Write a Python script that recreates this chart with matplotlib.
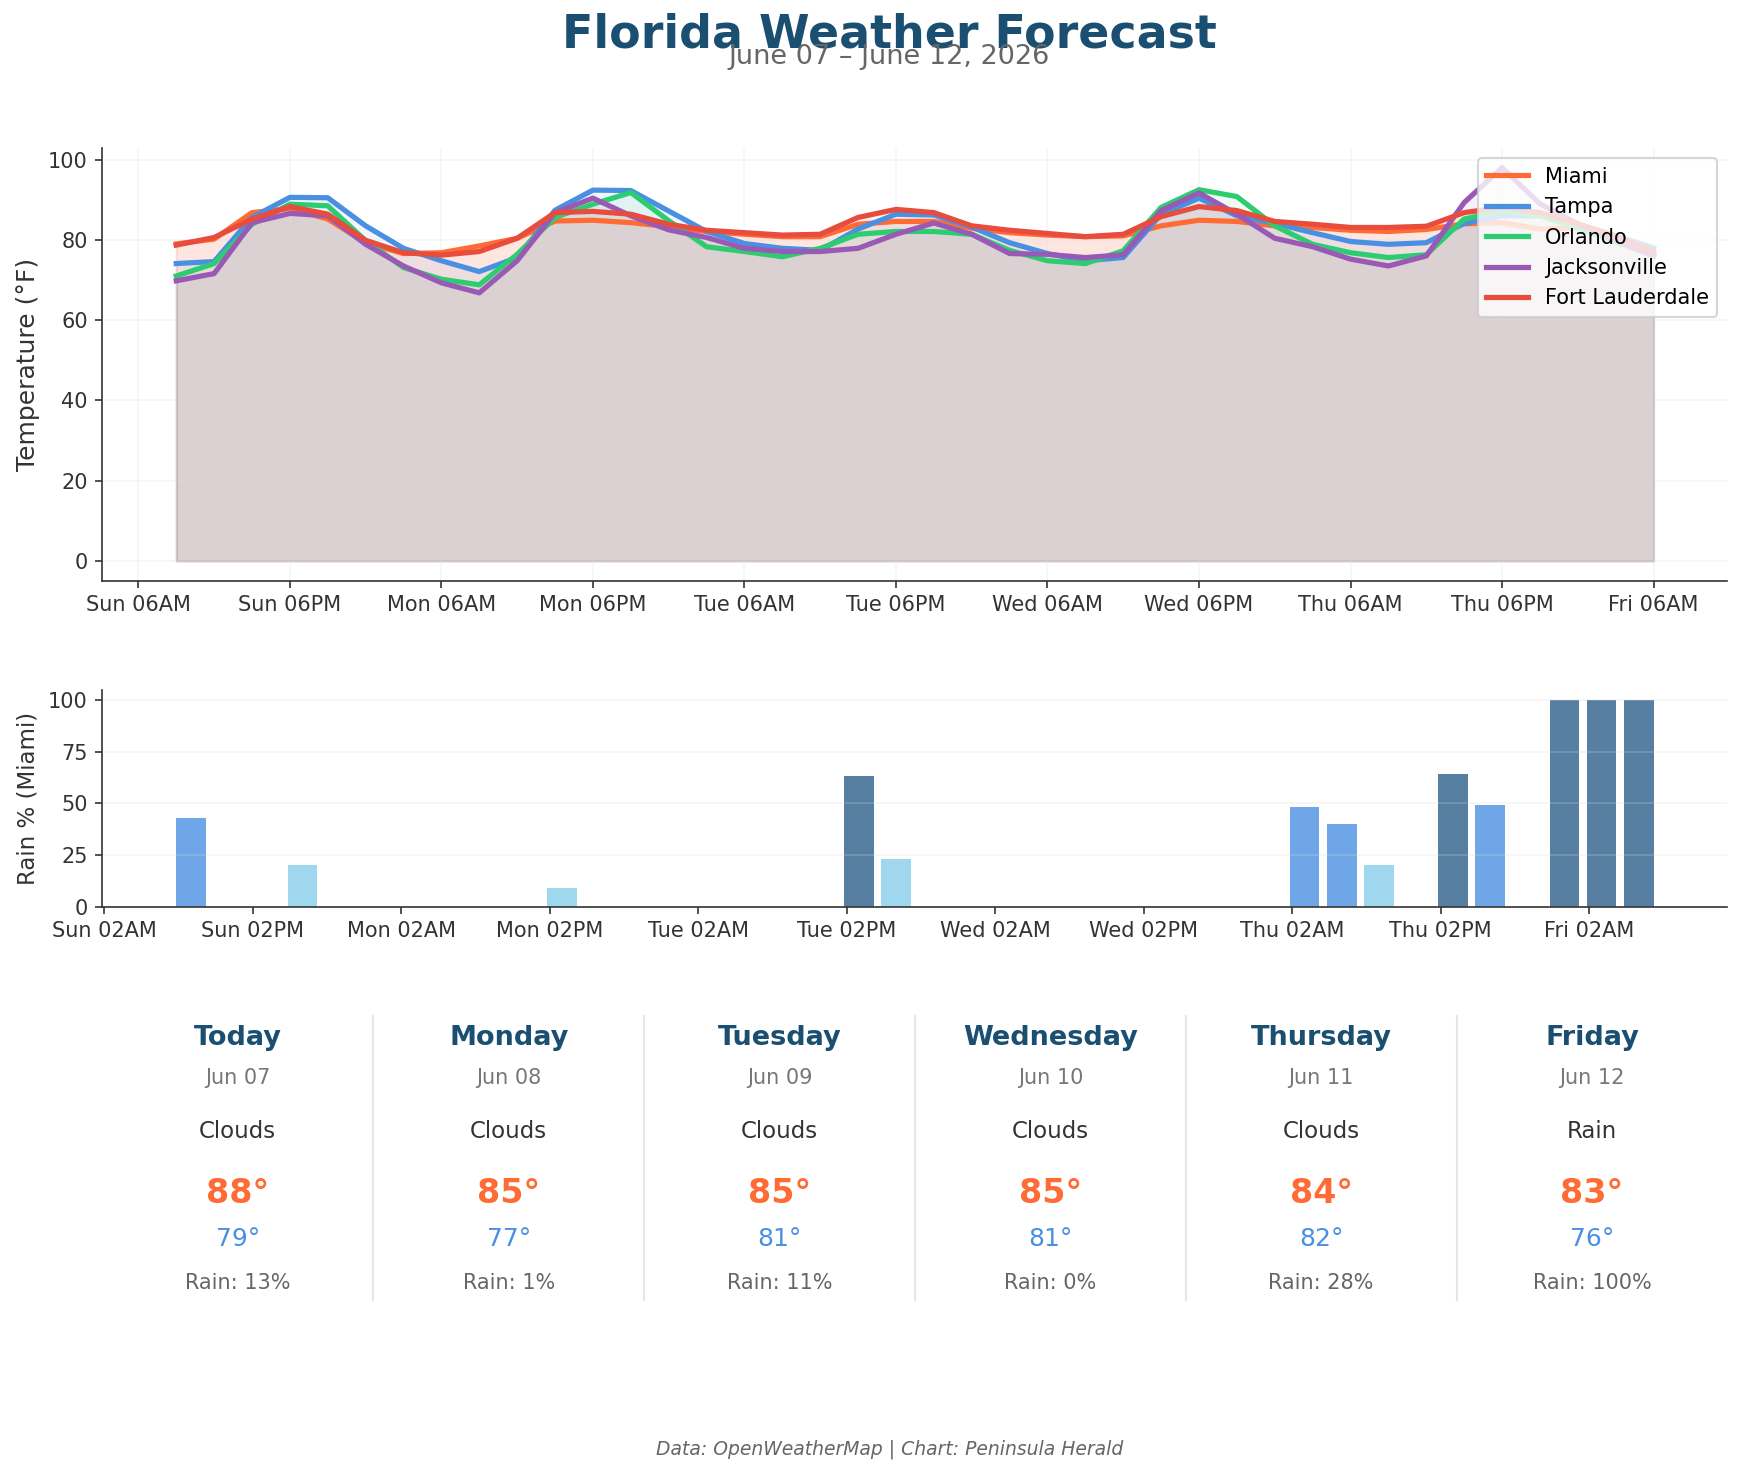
import matplotlib
matplotlib.use("Agg")
import matplotlib.pyplot as plt
import matplotlib.dates as mdates
import pandas as pd

# 3-hourly forecast, Sun 09AM -> Fri 06AM
times = pd.date_range("2026-06-07 09:00", periods=40, freq="3h")

cities = ["Miami", "Tampa", "Orlando", "Jacksonville", "Fort Lauderdale"]
city_colors = ["#FF6B35", "#4A90E2", "#2ECC71", "#9B59B6", "#E74C3C"]

miami = [79.0, 80.2, 86.8, 87.8, 85.2, 79.3, 76.6, 76.8, 78.5, 80.4,
         84.7, 84.9, 84.3, 83.3, 82.1, 81.4, 80.8, 80.8, 83.9, 84.6,
         84.6, 82.9, 81.8, 81.2, 80.8, 81.0, 83.5, 84.9, 84.6, 83.5,
         83.1, 82.4, 82.1, 82.6, 84.0, 84.3, 82.7, 83.0, 79.5, 76.0]
tampa = [74.1, 74.6, 85.6, 90.6, 90.5, 83.5, 77.9, 74.8, 72.1, 75.6,
         87.4, 92.4, 92.3, 87.2, 82.1, 79.1, 77.9, 77.4, 82.7, 86.4,
         86.2, 83.2, 79.3, 76.6, 74.8, 75.6, 86.4, 90.4, 86.0, 84.1,
         81.8, 79.6, 78.9, 79.3, 84.1, 86.0, 86.0, 84.0, 81.0, 78.0]
orlando = [71.0, 74.1, 83.9, 88.9, 88.5, 79.8, 73.1, 70.2, 68.8, 76.4,
           85.6, 88.9, 91.8, 84.8, 78.3, 77.1, 75.8, 77.9, 81.4, 82.1,
           82.1, 81.4, 77.4, 74.8, 74.1, 77.3, 88.1, 92.5, 90.8, 83.5,
           78.9, 76.8, 75.6, 76.3, 85.2, 87.2, 86.0, 83.0, 79.5, 76.5]
jacksonville = [69.8, 71.6, 84.3, 86.6, 86.0, 78.9, 73.5, 69.3, 66.8, 74.8,
                86.8, 90.4, 86.0, 82.5, 80.6, 77.9, 77.1, 77.1, 77.9, 81.4,
                84.2, 81.4, 76.6, 76.4, 75.6, 76.3, 87.3, 91.7, 86.4, 80.4,
                78.3, 75.2, 73.5, 76.0, 89.3, 98.0, 89.0, 84.0, 80.0, 76.0]
fort_lauderdale = [78.7, 80.6, 85.2, 88.3, 86.4, 79.9, 76.8, 76.2, 77.1, 80.4,
                   86.8, 87.1, 86.4, 83.9, 82.4, 81.8, 81.2, 81.4, 85.6, 87.6,
                   86.8, 83.5, 82.4, 81.6, 80.8, 81.4, 85.8, 88.3, 87.3, 84.6,
                   83.9, 83.1, 83.1, 83.4, 86.8, 88.1, 86.8, 84.0, 81.0, 77.0]
temps = [miami, tampa, orlando, jacksonville, fort_lauderdale]

# Miami chance of rain (%)
rain_miami = [43, 0, 0, 20, 0, 0, 0, 0, 0, 0,
              9, 0, 0, 0, 0, 0, 0, 0, 63, 23,
              0, 0, 0, 0, 0, 0, 0, 0, 0, 0,
              48, 40, 20, 0, 64, 49, 0, 100, 100, 100]

# daily summary
day_names = ["Today", "Monday", "Tuesday", "Wednesday", "Thursday", "Friday"]
day_dates = ["Jun 07", "Jun 08", "Jun 09", "Jun 10", "Jun 11", "Jun 12"]
conditions = ["Clouds", "Clouds", "Clouds", "Clouds", "Clouds", "Rain"]
highs = [88, 85, 85, 85, 84, 83]
lows = [79, 77, 81, 81, 82, 76]
rain_daily = [13, 1, 11, 0, 28, 100]

temp_ticks = pd.date_range("2026-06-07 06:00", "2026-06-12 06:00", freq="12h")
rain_ticks = pd.date_range("2026-06-07 02:00", "2026-06-12 02:00", freq="12h")

TITLE_COLOR = "#1B4F72"
TEXT_COLOR = "#333333"

fig = plt.figure(figsize=(1744 / 150, 1474 / 150), dpi=150)

fig.text(0.51, 0.976, "Florida Weather Forecast", ha="center", va="center",
         fontsize=22, fontweight="bold", color=TITLE_COLOR)
fig.text(0.51, 0.961, "June 07 \u2013 June 12, 2026", ha="center", va="center",
         fontsize=13, color="#666666")

# --- temperature chart ---
ax = fig.add_axes([0.0587, 0.6061, 0.9318, 0.2935])
for name, col, t in zip(cities, city_colors, temps):
    ax.fill_between(times, t, alpha=0.08, color=col)
for name, col, t in zip(cities, city_colors, temps):
    ax.plot(times, t, color=col, lw=2.5, label=name)

ax.set_ylabel("Temperature (\u00b0F)", fontsize=12, color=TEXT_COLOR)
ax.set_xticks(temp_ticks)
ax.xaxis.set_major_formatter(mdates.DateFormatter("%a %I%p"))
ax.tick_params(labelsize=10, colors=TEXT_COLOR)
ax.grid(True, alpha=0.25, color="#dddddd")
ax.legend(loc="upper right", fontsize=10, framealpha=0.8)
for s in ["top", "right"]:
    ax.spines[s].set_visible(False)
for s in ["left", "bottom"]:
    ax.spines[s].set_color(TEXT_COLOR)

# --- rain chart ---
ax2 = fig.add_axes([0.0587, 0.3849, 0.9318, 0.1472])
bar_colors = []
for r in rain_miami:
    if r >= 50:
        bar_colors.append("#2C5F8A")
    elif r >= 25:
        bar_colors.append("#4A90E2")
    else:
        bar_colors.append("#87CEEB")
ax2.bar(mdates.date2num(times), rain_miami, width=0.1, color=bar_colors, alpha=0.8)
ax2.set_ylim(0, 105)
ax2.set_ylabel("Rain % (Miami)", fontsize=11, color=TEXT_COLOR)
ax2.set_xticks(mdates.date2num(rain_ticks))
ax2.xaxis.set_major_formatter(mdates.DateFormatter("%a %I%p"))
ax2.set_yticks([0, 25, 50, 75, 100])
ax2.tick_params(labelsize=10, colors=TEXT_COLOR)
ax2.grid(True, axis="y", alpha=0.25, color="#dddddd")
for s in ["top", "right"]:
    ax2.spines[s].set_visible(False)
for s in ["left", "bottom"]:
    ax2.spines[s].set_color(TEXT_COLOR)

# --- daily summary cards ---
axp = fig.add_axes([0.0587, 0.1174, 0.9318, 0.1943])
axp.set_xlim(0, 6)
axp.set_ylim(0, 1)
axp.axis("off")
for i in range(1, 6):
    axp.plot([i, i], [0, 1], color="#e6e6e6", lw=1)
for i in range(6):
    cx = i + 0.5
    axp.text(cx, 0.919, day_names[i], ha="center", va="center", fontsize=13,
             fontweight="bold", color=TITLE_COLOR)
    axp.text(cx, 0.779, day_dates[i], ha="center", va="center", fontsize=10,
             color="#777777")
    axp.text(cx, 0.592, conditions[i], ha="center", va="center", fontsize=11,
             color=TEXT_COLOR)
    axp.text(cx, 0.375, f"{highs[i]}\u00b0", ha="center", va="center", fontsize=16,
             fontweight="bold", color="#FF6B35")
    axp.text(cx, 0.216, f"{lows[i]}\u00b0", ha="center", va="center", fontsize=12,
             color="#4A90E2")
    axp.text(cx, 0.061, f"Rain: {rain_daily[i]}%", ha="center", va="center",
             fontsize=10, color="#666666")

fig.text(0.51, 0.0167, "Data: OpenWeatherMap | Chart: Peninsula Herald",
         ha="center", va="center", fontsize=9, style="italic", color="#666666")

fig.savefig("out.png", dpi=150)
